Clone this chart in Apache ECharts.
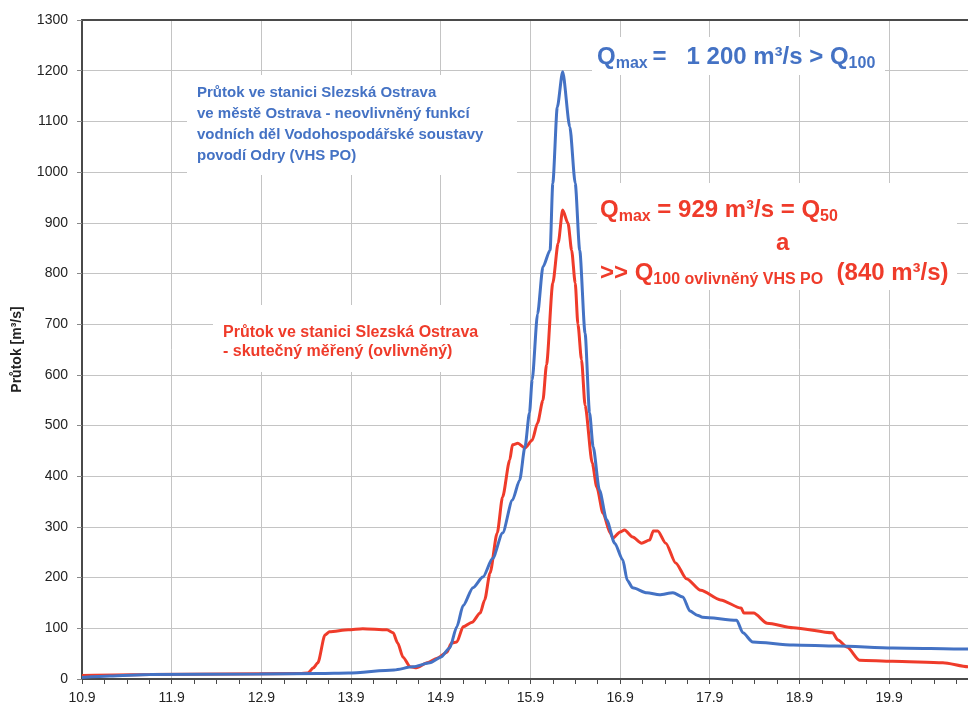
<!DOCTYPE html>
<html><head><meta charset="utf-8">
<script src="https://cdn.jsdelivr.net/npm/echarts@6/dist/echarts.min.js"></script>
<style>html,body{margin:0;padding:0;background:#fff}#c{width:968px;height:706px}</style>
</head><body><div id="c"></div>
<script>
// x values = days after 10.9
const xTickLabels = ['10.9','11.9','12.9','13.9','14.9','15.9','16.9','17.9','18.9','19.9','20.9'];
const yTicks = [0,100,200,300,400,500,600,700,800,900,1000,1100,1200,1300];

const blueDays = [0,0.31,0.76,1.98,2.65,2.97,3.48,3.69,3.88,4.00,4.10,4.18,4.25,4.36,4.47,4.58,4.69,4.80,4.88,4.94,4.99,5.02,5.08,5.14,5.22,5.25,5.30,5.36,5.44,5.50,5.55,5.61,5.66,5.70,5.77,5.85,5.94,6.03,6.08,6.14,6.30,6.44,6.59,6.70,6.78,6.86,6.92,7.30,7.37,7.48,7.93,8.42,9.04,9.88,10];
const blueFlow = [3,6,9,10,11,12,18,24,32,43,61,103,145,180,201,238,288,353,392,458,525,590,720,813,846,978,1128,1198,1089,978,846,682,525,458,373,314,268,235,195,180,170,166,170,162,134,126,122,116,91,73,67,65,61,59,58];

const redDays = [0,0.76,2.43,2.52,2.58,2.63,2.71,2.76,2.97,3.13,3.40,3.47,3.52,3.58,3.66,3.73,3.85,3.96,4.07,4.12,4.18,4.25,4.35,4.44,4.49,4.55,4.63,4.69,4.77,4.80,4.86,4.94,5.02,5.08,5.14,5.18,5.25,5.31,5.36,5.42,5.46,5.50,5.53,5.57,5.61,5.69,5.74,5.81,5.89,5.92,6.00,6.05,6.14,6.24,6.33,6.37,6.42,6.51,6.62,6.74,6.90,7.12,7.35,7.38,7.49,7.64,7.93,8.37,8.43,8.53,8.67,9.04,9.60,9.88,10];
const redFlow = [7,9,11,12,22,32,87,93,97,99,97,91,71,43,24,22,32,41,53,71,73,103,112,130,156,209,288,359,432,462,465,456,471,505,550,620,781,860,925,899,846,781,700,630,540,426,379,327,288,278,290,294,280,268,274,292,292,268,229,198,175,156,140,130,130,110,101,91,77,63,37,35,32,24,22,21];

const blue = '#4472C4', red = '#EF3B2A';

const chart = echarts.init(document.getElementById('c'));
const ff = '"Liberation Sans", Arial, sans-serif';
chart.setOption({
  animation: false,
  backgroundColor: '#fff',
  grid: {left: 82, top: 20, bottom: 27, right: 0, containLabel: false},
  xAxis: [{
    type: 'value', min: 0, max: 9.88, interval: 1,
    axisLine: {show: true, lineStyle: {color: '#4a4a4a', width: 2}},
    axisTick: {show: true, length: 5, lineStyle: {color: '#4a4a4a'}},
    minorTick: {show: true, splitNumber: 4, length: 5, lineStyle: {color: '#4a4a4a'}},
    axisLabel: {color: '#222', fontFamily: ff, fontSize: 14, margin: 12, showMaxLabel: false,
      formatter: v => (Math.abs(v - Math.round(v)) < 1e-6 ? xTickLabels[Math.round(v)] : '')},
    splitLine: {show: true, lineStyle: {color: '#c4c4c4', width: 1}}
  },{
    type: 'value', position: 'top', min: 0, max: 9.88,
    axisLine: {show: true, lineStyle: {color: '#4a4a4a', width: 2}},
    axisTick: {show: false}, axisLabel: {show: false}, splitLine: {show: false}
  }],
  yAxis: {
    type: 'value', min: 0, max: 1300, interval: 100,
    name: 'Průtok [m³/s]', nameLocation: 'middle', nameRotate: 90, nameGap: 58,
    nameTextStyle: {fontFamily: ff, fontWeight: 'bold', fontSize: 14, color: '#222'},
    axisLine: {show: true, lineStyle: {color: '#4a4a4a', width: 2}},
    axisTick: {show: true, length: 5, lineStyle: {color: '#888'}},
    axisLabel: {color: '#222', fontFamily: ff, fontSize: 14, margin: 14,
      formatter: v => String(yTicks[Math.round(v / 100)])},
    splitLine: {show: true, lineStyle: {color: '#c4c4c4', width: 1}}
  },
  series: [{
    type: 'line', name: 'neovlivněný', showSymbol: false, smooth: 0.25, smoothMonotone: 'x',
    lineStyle: {color: blue, width: 3}, z: 3,
    data: blueDays.map((d, i) => [d, blueFlow[i]])
  },{
    type: 'line', name: 'skutečný', showSymbol: false, smooth: 0.25, smoothMonotone: 'x',
    lineStyle: {color: red, width: 3}, z: 2,
    data: redDays.map((d, i) => [d, redFlow[i]])
  }],
  graphic: [
    {type: 'rect', z: 10, shape: {x: 187, y: 75, width: 330, height: 100}, style: {fill: '#fff'}},
    {type: 'text', z: 11, left: 197, top: 82, style: {
      text: 'Průtok ve stanici Slezská Ostrava\nve městě Ostrava - neovlivněný funkcí\nvodních děl Vodohospodářské soustavy\npovodí Odry (VHS PO)',
      fill: blue, font: 'bold 15px ' + ff, lineHeight: 21}},
    {type: 'rect', z: 10, shape: {x: 213, y: 305, width: 297, height: 67}, style: {fill: '#fff'}},
    {type: 'text', z: 11, left: 223, top: 323, style: {
      text: 'Průtok ve stanici Slezská Ostrava\n- skutečný měřený (ovlivněný)',
      fill: red, font: 'bold 16px ' + ff, lineHeight: 19}},
    {type: 'rect', z: 10, shape: {x: 592, y: 37, width: 293, height: 38}, style: {fill: '#fff'}},
    {type: 'text', z: 11, left: 597, top: 42, style: {
      text: '{q|Q}{s|max}{q|\u2009=   1 200 m³/s > Q}{s|100}',
      fill: blue,
      rich: {
        q: {fontFamily: ff, fontWeight: 'bold', fontSize: 24, lineHeight: 24, fill: blue},
        s: {fontFamily: ff, fontWeight: 'bold', fontSize: 16, lineHeight: 16, padding: [14, 0, 0, 0], fill: blue}
      }}},
    {type: 'rect', z: 10, shape: {x: 597, y: 183, width: 360, height: 107}, style: {fill: '#fff'}},
    {type: 'text', z: 11, left: 600, top: 195, style: {
      text: '{q|Q}{s|max}{q| = 929 m³/s = Q}{s|50}',
      rich: {
        q: {fontFamily: ff, fontWeight: 'bold', fontSize: 24, lineHeight: 24, fill: red},
        s: {fontFamily: ff, fontWeight: 'bold', fontSize: 16, lineHeight: 16, padding: [14, 0, 0, 0], fill: red}
      }}},
    {type: 'text', z: 11, left: 776, top: 231, style: {text: 'a', fill: red, font: 'bold 24px ' + ff}},
    {type: 'text', z: 11, left: 600, top: 258, style: {
      text: '{q|>> Q}{s|100 ovlivněný VHS PO}{q|  (840 m³/s)}',
      rich: {
        q: {fontFamily: ff, fontWeight: 'bold', fontSize: 24, lineHeight: 24, fill: red},
        s: {fontFamily: ff, fontWeight: 'bold', fontSize: 16, lineHeight: 16, padding: [14, 0, 0, 0], fill: red}
      }}}
  ]
});
</script></body></html>
